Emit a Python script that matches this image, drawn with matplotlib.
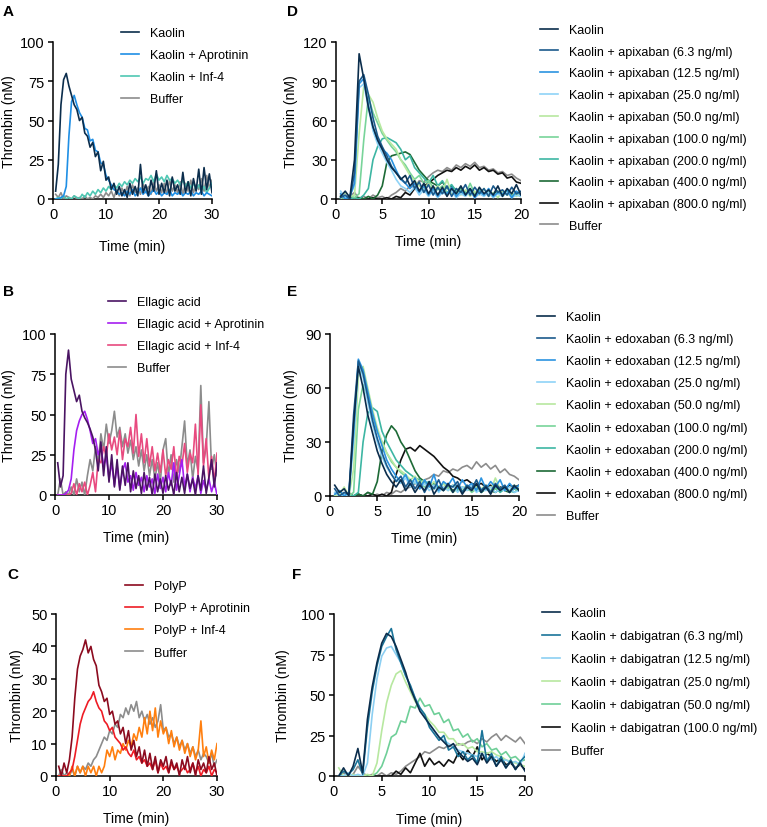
import numpy as np
import matplotlib
matplotlib.use("Agg")
import matplotlib.pyplot as plt

plt.rcParams['font.family'] = ['Liberation Sans', 'DejaVu Sans']

# -----------------------------
# Time grids (min)
# -----------------------------
t_long = np.arange(0.5, 30.01, 0.5)    # panels A-C, 60 points
t_short = np.arange(0.5, 20.01, 0.5)   # panels D-F, 40 points

# -----------------------------
# Panel A - kaolin (thrombin, nM)
# -----------------------------
a_kaolin = [5, 22, 60, 76, 80, 72, 66, 60, 57, 50, 52, 42, 40, 33, 36, 27, 30, 18, 24, 12,
            14, 6, 10, 3, 8, 2, 6, 1, 10, 3, 8, 2, 22, 4, 9, 2, 12, 5, 18, 3,
            10, 4, 12, 2, 14, 5, 9, 3, 17, 4, 11, 2, 13, 5, 19, 3, 20, 6, 16, 4]
a_aprot = [0, 0, 1, 2, 8, 40, 62, 66, 60, 55, 52, 45, 44, 37, 38, 31, 30, 23, 22, 15,
           12, 9, 6, 5, 3, 4, 2, 5, 3, 6, 2, 4, 7, 3, 5, 2, 4, 6, 3, 5,
           2, 4, 3, 6, 2, 4, 3, 5, 2, 4, 3, 5, 2, 4, 3, 5, 2, 4, 3, 2]
a_inf4 = [0, 1, 0, 2, 0, 1, 0, 2, 1, 0, 3, 1, 4, 2, 5, 3, 6, 4, 7, 5,
          8, 6, 9, 7, 10, 8, 11, 9, 12, 10, 13, 11, 14, 10, 13, 12, 15, 11, 16, 12,
          14, 11, 15, 12, 13, 10, 12, 9, 12, 8, 11, 7, 10, 6, 9, 5, 8, 4, 7, 10]
a_buffer = [3, 1, 4, 0, 2, 1, 0, 2, 0, 1, 0, 2, 0, 1, 0, 2, 1, 3, 1, 4,
            2, 5, 1, 6, 2, 7, 3, 8, 2, 9, 4, 7, 3, 10, 4, 8, 3, 11, 5, 9,
            4, 10, 3, 12, 5, 9, 4, 11, 3, 10, 5, 12, 4, 9, 6, 13, 5, 15, 7, 12]

# -----------------------------
# Panel B - ellagic acid
# -----------------------------
b_ellagic = [20, 5, 12, 75, 90, 72, 65, 58, 62, 52, 48, 45, 41, 36, 28, 15, 33, 12, 30, 8,
             25, 5, 22, 3, 18, 6, 20, 2, 15, 4, 12, 1, 14, 3, 11, 0, 13, 2, 10, 1,
             12, 3, 9, 0, 14, 2, 11, 1, 13, 4, 10, 0, 12, 3, 18, 1, 11, 22, 5, 20]
b_aprot = [0, 0, 0, 1, 3, 10, 28, 40, 46, 50, 52, 47, 40, 32, 35, 25, 30, 18, 24, 10,
           20, 6, 18, 4, 15, 20, 8, 12, 3, 14, 6, 11, 2, 12, 5, 10, 1, 13, 4, 11,
           2, 14, 6, 20, 3, 12, 22, 5, 13, 2, 11, 4, 12, 1, 9, 3, 10, 2, 8, 0]
b_inf4 = [0, 0, 0, 0, 0, 1, 7, 0, 7, 2, 8, 0, 6, 14, 2, 22, 20, 30, 24, 38,
          28, 36, 25, 40, 22, 35, 30, 42, 26, 50, 24, 38, 20, 35, 18, 30, 15, 26, 14, 28,
          12, 22, 16, 30, 10, 24, 18, 32, 14, 26, 20, 44, 12, 56, 18, 35, 10, 24, 8, 26]
b_buffer = [0, 10, 0, 2, 0, 5, 0, 10, 2, 8, 0, 12, 22, 15, 30, 20, 38, 28, 44, 32,
            40, 52, 36, 42, 30, 38, 26, 34, 22, 30, 18, 28, 15, 25, 12, 22, 10, 20, 8, 28,
            35, 12, 25, 8, 22, 14, 30, 46, 18, 28, 10, 24, 15, 68, 20, 30, 58, 16, 25, 12]

# -----------------------------
# Panel C - polyP
# -----------------------------
c_polyp = [3, 0, 4, 1, 5, 12, 24, 33, 37, 39, 42, 38, 40, 36, 34, 28, 26, 23, 24, 19,
           20, 16, 17, 13, 15, 10, 14, 8, 11, 6, 9, 4, 8, 3, 7, 2, 6, 1, 5, 3,
           6, 1, 5, 2, 4, 0, 5, 2, 6, 1, 4, 0, 5, 2, 4, 1, 6, 2, 4, 0]
c_aprot = [0, 0, 0, 0, 1, 2, 6, 11, 16, 19, 21, 23, 24, 26, 23, 21, 20, 17, 16, 14,
           15, 12, 11, 10, 8, 9, 7, 6, 8, 5, 6, 4, 5, 3, 4, 2, 5, 1, 4, 2,
           3, 1, 4, 2, 3, 1, 2, 3, 1, 2, 4, 1, 3, 0, 2, 1, 3, 0, 2, 1]
c_inf4 = [0, 0, 0, 0, 0, 3, 0, 3, 1, 3, 0, 3, 1, 3, 0, 3, 1, 3, 8, 6,
          9, 5, 8, 7, 10, 8, 11, 9, 13, 11, 15, 12, 18, 13, 20, 14, 21, 12, 17, 13,
          15, 10, 14, 9, 12, 8, 11, 7, 10, 6, 9, 5, 8, 17, 6, 9, 4, 8, 5, 10]
c_buffer = [0, 2, 0, 1, 0, 2, 0, 3, 1, 3, 2, 4, 3, 5, 6, 8, 10, 12, 11, 14,
            13, 16, 15, 19, 18, 21, 19, 22, 20, 23, 18, 20, 17, 19, 16, 18, 15, 17, 22, 14,
            15, 12, 13, 10, 12, 9, 11, 8, 10, 7, 9, 6, 8, 5, 7, 6, 4, 7, 3, 5]

# -----------------------------
# Panel D - apixaban
# -----------------------------
d_kaolin = [2, 6, 1, 30, 111, 92, 70, 55, 45, 38, 30, 24, 20, 15, 18, 10, 14, 6, 12, 4,
            10, 3, 9, 2, 8, 4, 10, 3, 8, 2, 9, 4, 7, 3, 10, 2, 8, 4, 11, 3]
d_6_3 = [1, 3, 0, 20, 90, 95, 80, 62, 48, 40, 33, 25, 20, 16, 12, 18, 8, 13, 5, 11,
         3, 9, 4, 10, 2, 8, 5, 11, 3, 9, 4, 8, 2, 10, 5, 7, 3, 9, 4, 6]
d_12_5 = [4, 0, 2, 12, 88, 92, 72, 55, 45, 38, 35, 30, 22, 15, 12, 8, 12, 5, 10, 3,
          8, 2, 7, 4, 9, 2, 6, 3, 7, 1, 6, 3, 8, 2, 5, 4, 7, 1, 6, 3]
d_25 = [6, 1, 3, 10, 85, 88, 70, 52, 42, 35, 28, 22, 15, 10, 8, 5, 9, 3, 7, 2,
        6, 1, 5, 3, 6, 1, 4, 2, 6, 1, 4, 2, 5, 1, 4, 2, 5, 1, 3, 2]
d_50 = [0, 5, 2, 3, 50, 86, 80, 74, 62, 52, 46, 42, 38, 30, 24, 18, 14, 10, 8, 12,
        6, 10, 5, 15, 4, 8, 3, 7, 2, 6, 3, 8, 2, 5, 1, 6, 3, 5, 2, 4]
d_100 = [2, 0, 3, 1, 4, 45, 78, 66, 58, 50, 45, 40, 36, 30, 26, 20, 15, 18, 12, 14,
         9, 7, 10, 5, 8, 4, 7, 3, 12, 4, 6, 3, 7, 2, 5, 4, 6, 3, 5, 2]
d_200 = [0, 2, 0, 1, 0, 3, 8, 30, 40, 46, 47, 45, 43, 38, 30, 33, 24, 20, 16, 12,
         18, 10, 14, 8, 11, 6, 9, 5, 8, 4, 7, 3, 6, 2, 5, 4, 6, 2, 5, 3]
d_400 = [0, 0, 1, 0, 1, 0, 2, 0, 3, 10, 28, 33, 34, 35, 36, 34, 28, 22, 18, 14,
         12, 10, 13, 8, 10, 6, 8, 5, 7, 4, 6, 3, 5, 4, 6, 3, 5, 2, 4, 2]
d_800 = [0, 1, 0, 0, 1, 0, 0, 1, 0, 0, 1, 0, 2, 1, 5, 3, 8, 6, 10, 12,
         15, 18, 20, 22, 21, 24, 22, 25, 23, 26, 22, 24, 21, 22, 19, 20, 16, 17, 13, 12]
d_buffer = [3, 0, 2, 5, 0, 2, 0, 3, 1, 2, 0, 3, 5, 8, 6, 10, 9, 14, 13, 17,
            20, 22, 21, 24, 22, 26, 24, 27, 25, 28, 24, 25, 22, 23, 20, 21, 18, 19, 16, 14]

# -----------------------------
# Panel E - edoxaban
# -----------------------------
e_kaolin = [6, 2, 4, 0, 40, 72, 60, 45, 35, 25, 18, 12, 8, 5, 9, 3, 7, 2, 6, 3,
            8, 1, 5, 3, 7, 2, 6, 1, 5, 3, 7, 2, 5, 1, 6, 3, 5, 2, 6, 3]
e_6_3 = [4, 0, 2, 1, 45, 75, 68, 55, 42, 32, 24, 17, 12, 8, 11, 5, 9, 4, 8, 2,
         7, 4, 9, 3, 6, 5, 8, 2, 6, 4, 9, 3, 6, 2, 7, 4, 6, 2, 5, 4]
e_12_5 = [1, 3, 0, 2, 35, 76, 70, 58, 46, 36, 28, 20, 15, 11, 8, 12, 6, 10, 4, 9,
          5, 12, 3, 8, 6, 10, 4, 9, 5, 7, 3, 10, 4, 8, 5, 9, 3, 7, 4, 6]
e_25 = [2, 0, 1, 0, 30, 74, 66, 52, 40, 30, 22, 16, 12, 9, 7, 10, 5, 8, 4, 7,
        3, 6, 2, 5, 3, 6, 2, 5, 3, 6, 2, 4, 3, 5, 2, 4, 3, 5, 2, 3]
e_50 = [0, 1, 5, 0, 15, 66, 72, 60, 48, 38, 30, 24, 20, 16, 14, 12, 9, 11, 7, 9,
        5, 8, 4, 7, 3, 6, 5, 4, 6, 3, 5, 4, 6, 3, 10, 4, 5, 3, 6, 4]
e_100 = [0, 0, 1, 0, 2, 48, 62, 55, 45, 36, 30, 24, 19, 16, 13, 11, 9, 7, 8, 5,
         6, 4, 5, 3, 5, 2, 4, 3, 5, 2, 4, 3, 5, 2, 4, 3, 5, 2, 4, 3]
e_200 = [0, 0, 0, 1, 0, 2, 30, 46, 49, 47, 36, 30, 25, 20, 17, 14, 12, 10, 9, 7,
         8, 6, 5, 7, 4, 6, 3, 5, 4, 3, 5, 2, 4, 3, 5, 2, 4, 3, 2, 4]
e_400 = [0, 0, 0, 1, 0, 1, 0, 2, 1, 8, 25, 34, 39, 36, 30, 26, 20, 14, 10, 8,
         6, 7, 5, 4, 6, 3, 5, 2, 4, 3, 5, 2, 4, 3, 2, 4, 3, 2, 4, 3]
e_800 = [0, 0, 1, 0, 0, 1, 0, 0, 1, 0, 1, 0, 2, 12, 20, 26, 27, 25, 28, 26,
         24, 22, 19, 16, 14, 11, 10, 8, 9, 7, 6, 7, 5, 6, 4, 5, 4, 6, 5, 6]
e_buffer = [0, 3, 0, 2, 0, 1, 0, 2, 0, 1, 0, 2, 1, 3, 2, 4, 5, 7, 6, 9,
            10, 12, 11, 14, 13, 15, 14, 16, 17, 15, 19, 16, 18, 15, 17, 13, 15, 12, 11, 9]

# -----------------------------
# Panel F - dabigatran
# -----------------------------
f_kaolin = [0, 5, 0, 6, 17, 2, 35, 55, 70, 82, 88, 86, 80, 72, 64, 54, 47, 40, 36, 32,
            28, 24, 21, 18, 20, 15, 12, 9, 11, 7, 14, 8, 12, 6, 10, 5, 9, 4, 8, 3]
f_6_3 = [0, 3, 1, 4, 10, 1, 30, 52, 68, 80, 86, 91, 78, 70, 62, 56, 48, 42, 38, 30,
         26, 22, 25, 16, 18, 12, 15, 10, 13, 8, 28, 9, 14, 6, 12, 5, 10, 4, 9, 12]
f_12_5 = [0, 0, 2, 0, 1, 0, 8, 38, 60, 74, 79, 80, 75, 70, 62, 55, 48, 42, 36, 32,
          28, 24, 22, 20, 18, 16, 15, 14, 13, 12, 14, 11, 10, 12, 9, 10, 8, 9, 7, 14]
f_25 = [5, 0, 0, 1, 0, 0, 1, 0, 8, 28, 45, 56, 63, 65, 58, 52, 46, 42, 38, 34,
        31, 27, 27, 23, 23, 19, 20, 17, 18, 15, 15, 14, 15, 13, 12, 10, 9, 8, 7, 6]
f_50 = [0, 0, 0, 0, 0, 0, 0, 0, 2, 6, 14, 24, 26, 34, 33, 43, 42, 48, 43, 44,
        38, 39, 33, 35, 28, 29, 24, 26, 21, 23, 18, 20, 16, 17, 13, 15, 11, 12, 9, 10]
f_100 = [0, 0, 0, 0, 0, 0, 0, 0, 0, 0, 0, 0, 3, 1, 5, 2, 8, 14, 6, 11,
         7, 9, 6, 10, 8, 14, 10, 16, 12, 18, 10, 14, 12, 9, 11, 7, 8, 5, 7, 4]
f_buffer = [0, 2, 0, 1, 6, 2, 0, 1, 0, 2, 0, 2, 1, 3, 6, 8, 10, 12, 15, 14,
            16, 18, 17, 19, 18, 20, 19, 21, 22, 20, 23, 21, 24, 26, 22, 25, 23, 21, 24, 20]

# -----------------------------
# Labels and colours
# -----------------------------
grey = "#8c8c8c"
navy = "#0b2d4c"
doac_colors = [navy, "#1b5a8c", "#2b93e0", "#8fd3f7", "#b7e8a0",
               "#78d49a", "#3db6a3", "#1d6a36", "#111111", grey]
doses = ["6.3", "12.5", "25.0", "50.0", "100.0", "200.0", "400.0", "800.0"]

W, H = 767, 828
fig = plt.figure(figsize=(W / 100, H / 100), dpi=100)


def make_axes(l, t, r, b):
    # rectangle given in pixels from the top-left corner
    return fig.add_axes([l / W, 1 - b / H, (r - l) / W, (b - t) / H])


def style(ax, box, xmax, xticks, ymax, yticks, ylab_x, xlab_dy, legend_xy, spacing):
    l, t, r, b = box
    ax.set_xlim(0, xmax)
    ax.set_ylim(0, ymax)
    ax.set_xticks(xticks)
    ax.set_yticks(yticks)
    for s in ["top", "right"]:
        ax.spines[s].set_visible(False)
    for s in ["left", "bottom"]:
        ax.spines[s].set_linewidth(1.1)
    ax.tick_params(direction="out", length=3.5, width=1.1, labelsize=10.5, pad=2.5)
    ax.set_xlabel("Time (min)", fontsize=10)
    ax.set_ylabel("Thrombin (nM)", fontsize=10.2)
    ax.xaxis.set_label_coords(0.5, -xlab_dy / (b - t))
    ax.yaxis.set_label_coords((ylab_x + 7 - l) / (r - l), 0.5)
    ax.legend(loc="upper left", bbox_to_anchor=(legend_xy[0] / W, 1 - legend_xy[1] / H),
              bbox_transform=fig.transFigure, frameon=False, fontsize=9,
              handlelength=1.4, handletextpad=0.9, labelspacing=spacing,
              borderpad=0, borderaxespad=0)


def draw(ax, t, series, labels, colors):
    lines = []
    for y, lab, c in zip(series, labels, colors):
        ln, = ax.plot(t, y, color=c, lw=1.2, label=lab)
        lines.append(ln)
    # first series in the legend sits on top
    for z, ln in enumerate(lines):
        ln.set_zorder(3 + len(lines) - z)


# -----------------------------
# A
# -----------------------------
box = (53, 43, 212, 200)
ax = make_axes(*box)
draw(ax, t_long, [a_kaolin, a_aprot, a_inf4, a_buffer],
     ["Kaolin", "Kaolin + Aprotinin", "Kaolin + Inf-4", "Buffer"],
     [navy, "#1f8fe5", "#4fc7b3", grey])
style(ax, box, 30, [0, 10, 20, 30], 100, [0, 25, 50, 75, 100], 9, 40, (121, 28), 0.8)

# -----------------------------
# B
# -----------------------------
box = (55, 335, 217, 496)
ax = make_axes(*box)
draw(ax, t_long, [b_ellagic, b_aprot, b_inf4, b_buffer],
     ["Ellagic acid", "Ellagic acid + Aprotinin", "Ellagic acid + Inf-4", "Buffer"],
     ["#4a1463", "#a51ff0", "#e84a7f", grey])
style(ax, box, 30, [0, 10, 20, 30], 100, [0, 25, 50, 75, 100], 9, 35, (108, 297), 0.8)

# -----------------------------
# C
# -----------------------------
box = (56, 615, 217, 777)
ax = make_axes(*box)
draw(ax, t_long, [c_polyp, c_aprot, c_inf4, c_buffer],
     ["PolyP", "PolyP + Aprotinin", "PolyP + Inf-4", "Buffer"],
     ["#8c0b1f", "#ee1c25", "#ff7f0f", grey])
style(ax, box, 30, [0, 10, 20, 30], 50, [0, 10, 20, 30, 40, 50], 17, 35, (125, 581), 0.82)

# -----------------------------
# D
# -----------------------------
box = (336, 43, 521, 200)
ax = make_axes(*box)
draw(ax, t_short, [d_kaolin, d_6_3, d_12_5, d_25, d_50, d_100, d_200, d_400, d_800, d_buffer],
     ["Kaolin"] + [f"Kaolin + apixaban ({d} ng/ml)" for d in doses] + ["Buffer"],
     doac_colors)
style(ax, box, 20, [0, 5, 10, 15, 20], 120, [0, 30, 60, 90, 120], 291, 35, (540, 25), 0.78)

# -----------------------------
# E
# -----------------------------
box = (330, 335, 519, 497)
ax = make_axes(*box)
draw(ax, t_short, [e_kaolin, e_6_3, e_12_5, e_25, e_50, e_100, e_200, e_400, e_800, e_buffer],
     ["Kaolin"] + [f"Kaolin + edoxaban ({d} ng/ml)" for d in doses] + ["Buffer"],
     doac_colors)
style(ax, box, 20, [0, 5, 10, 15, 20], 90, [0, 30, 60, 90], 291, 35, (537, 312), 0.81)

# -----------------------------
# F
# -----------------------------
box = (334, 615, 525, 777)
ax = make_axes(*box)
draw(ax, t_short, [f_kaolin, f_6_3, f_12_5, f_25, f_50, f_100, f_buffer],
     ["Kaolin"] + [f"Kaolin + dabigatran ({d} ng/ml)" for d in doses[:5]] + ["Buffer"],
     [navy, "#1a7499", "#8ccff2", "#b7e8a0", "#6fcf98", "#111111", grey])
style(ax, box, 20, [0, 5, 10, 15, 20], 100, [0, 25, 50, 75, 100], 283, 36, (542, 608), 0.88)

# -----------------------------
# Panel letters
# -----------------------------
for letter, x, y in [("A", 3, 5), ("B", 3, 285), ("C", 7, 568),
                     ("D", 287, 5), ("E", 287, 285), ("F", 292, 568)]:
    fig.text(x / W, 1 - y / H, letter, fontsize=11, fontweight="bold", va="top", ha="left")

fig.savefig("out.png", dpi=100)
